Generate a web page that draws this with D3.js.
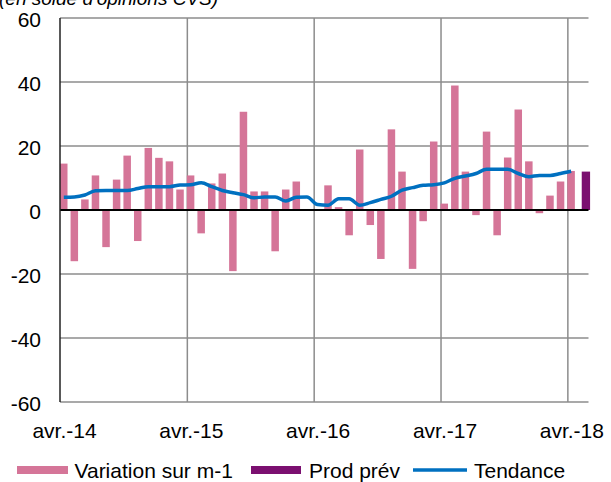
<!DOCTYPE html>
<html lang="fr">
<head>
<meta charset="UTF-8">
<script src="https://cdn.jsdelivr.net/npm/d3@7"></script>
<title>Variation sur m-1</title>
<style>
  body { margin: 0; background: #fff; }
  text { font-family: "Liberation Sans", Arial, sans-serif; fill: #000; }
</style>
</head>
<body>
<div id="chart"></div>
<script>
// months, avr.-14 .. mai-18
var months = ["avr.-14","mai-14","juin-14","juil.-14","août-14","sept.-14","oct.-14","nov.-14","déc.-14","janv.-15","févr.-15","mars-15",
              "avr.-15","mai-15","juin-15","juil.-15","août-15","sept.-15","oct.-15","nov.-15","déc.-15","janv.-16","févr.-16","mars-16",
              "avr.-16","mai-16","juin-16","juil.-16","août-16","sept.-16","oct.-16","nov.-16","déc.-16","janv.-17","févr.-17","mars-17",
              "avr.-17","mai-17","juin-17","juil.-17","août-17","sept.-17","oct.-17","nov.-17","déc.-17","janv.-18","févr.-18","mars-18",
              "avr.-18","mai-18"];
var tickLabels = ["avr.-14","avr.-15","avr.-16","avr.-17","avr.-18"];
var yTicks = [-60,-40,-20,0,20,40,60];

// Variation sur m-1 (avr.-14 .. avr.-18)
var variation = [14.5,-16,3.3,10.8,-11.6,9.5,17,-9.7,19.4,16.3,15.2,6.4,
                 10.8,-7.3,8.3,11.4,-19.1,30.7,5.8,5.8,-12.9,6.4,8.9,0,
                 0,7.7,0.9,-7.9,18.9,-4.7,-15.3,25.2,12,-18.4,-3.5,21.4,
                 2.0,38.9,12,-1.6,24.5,-7.9,16.4,31.4,15.2,-1.0,4.5,8.9,
                 12.2];
// Prod prév (mai-18)
var prodPrev = [{month: "mai-18", value: 12}];
// Tendance
var tendance = [4.0,4.1,4.7,6.0,6.1,6.1,6.1,6.7,7.3,7.3,7.3,7.8,
                7.9,8.5,7.3,6.1,5.4,4.8,3.8,4.1,4.1,2.8,4.0,4.1,
                1.7,1.5,3.5,3.5,1.5,2.3,3.3,4.3,6.2,7.0,7.7,7.9,
                8.5,9.9,10.6,11.4,12.7,12.7,12.7,11.4,10.4,10.8,10.8,11.4,
                12.1];

var W = 611, H = 482;
var pLeft = 60, pRight = 588.5, pTop = 18, pBottom = 402;

var svg = d3.select("#chart").append("svg")
    .attr("width", W)
    .attr("height", H);

var x = d3.scaleLinear().domain([0, months.length]).range([pLeft, pRight]);
var step = x(1) - x(0);
var y = d3.scaleLinear().domain([-60, 60]).range([pBottom, pTop]);

// horizontal gridlines
svg.append("g").selectAll("line")
    .data(yTicks.filter(d => d != 0))
    .enter().append("line")
    .attr("x1", pLeft).attr("x2", pRight)
    .attr("y1", d => y(d)).attr("y2", d => y(d))
    .attr("stroke", "#8c8c8c")
    .attr("stroke-width", 1.5);

// vertical gridlines at each avr.
svg.append("g").selectAll("line")
    .data(tickLabels.slice(1))
    .enter().append("line")
    .attr("x1", d => x(months.indexOf(d)) + 0.5)
    .attr("x2", d => x(months.indexOf(d)) + 0.5)
    .attr("y1", pTop).attr("y2", pBottom)
    .attr("stroke", "#8c8c8c")
    .attr("stroke-width", 1.5);

// bars
svg.append("g").selectAll("rect")
    .data(variation)
    .enter().append("rect")
    .attr("x", (d, i) => x(i))
    .attr("width", step * 0.71)
    .attr("y", d => y(Math.max(0, d)))
    .attr("height", d => Math.abs(y(d) - y(0)))
    .attr("fill", "#d57598");

svg.append("g").selectAll("rect")
    .data(prodPrev)
    .enter().append("rect")
    .attr("x", d => x(months.indexOf(d.month)) + step * 0.36)
    .attr("width", step * 0.79)
    .attr("y", d => y(Math.max(0, d.value)))
    .attr("height", d => Math.abs(y(d.value) - y(0)))
    .attr("fill", "#7b1070");

// zero line and left axis
svg.append("line")
    .attr("x1", pLeft).attr("x2", pRight)
    .attr("y1", y(0)).attr("y2", y(0))
    .attr("stroke", "#000")
    .attr("stroke-width", 2);

svg.append("line")
    .attr("x1", pLeft).attr("x2", pLeft)
    .attr("y1", pTop).attr("y2", pBottom)
    .attr("stroke", "#222")
    .attr("stroke-width", 1.5);

// trend line
var line = d3.line()
    .x((d, i) => x(i) + step * 0.36)
    .y(d => y(d))
    .curve(d3.curveMonotoneX);

svg.append("path")
    .datum(tendance)
    .attr("d", line)
    .attr("fill", "none")
    .attr("stroke", "#0070c0")
    .attr("stroke-width", 3.5)
    .attr("stroke-linejoin", "round");

// y labels
svg.append("g").selectAll("text")
    .data(yTicks)
    .enter().append("text")
    .attr("x", 41)
    .attr("y", d => y(d) + 9)
    .attr("text-anchor", "end")
    .style("font-size", "21px")
    .text(d => d);

// x labels
svg.append("g").selectAll("text")
    .data(tickLabels)
    .enter().append("text")
    .attr("x", d => x(months.indexOf(d)) + 4.5)
    .attr("y", pBottom + 36)
    .attr("text-anchor", "middle")
    .style("font-size", "21px")
    .text(d => d);

// title, cut at the top
svg.append("text")
    .attr("x", -1)
    .attr("y", 5)
    .style("font-size", "19px")
    .style("font-style", "italic")
    .text("(en solde d'opinions CVS)");

// legend
var lg = svg.append("g");
lg.append("rect").attr("x", 17).attr("y", 466).attr("width", 51).attr("height", 8).attr("fill", "#d57598");
lg.append("text").attr("x", 74.5).attr("y", 478).style("font-size", "21px").text("Variation sur m-1");
lg.append("rect").attr("x", 251).attr("y", 466).attr("width", 50).attr("height", 8).attr("fill", "#7b1070");
lg.append("text").attr("x", 309).attr("y", 478).style("font-size", "21px").text("Prod prév");
lg.append("line").attr("x1", 413).attr("x2", 467).attr("y1", 470).attr("y2", 470)
    .attr("stroke", "#0070c0").attr("stroke-width", 3.5);
lg.append("text").attr("x", 474).attr("y", 478).style("font-size", "21px").text("Tendance");
</script>
</body>
</html>
